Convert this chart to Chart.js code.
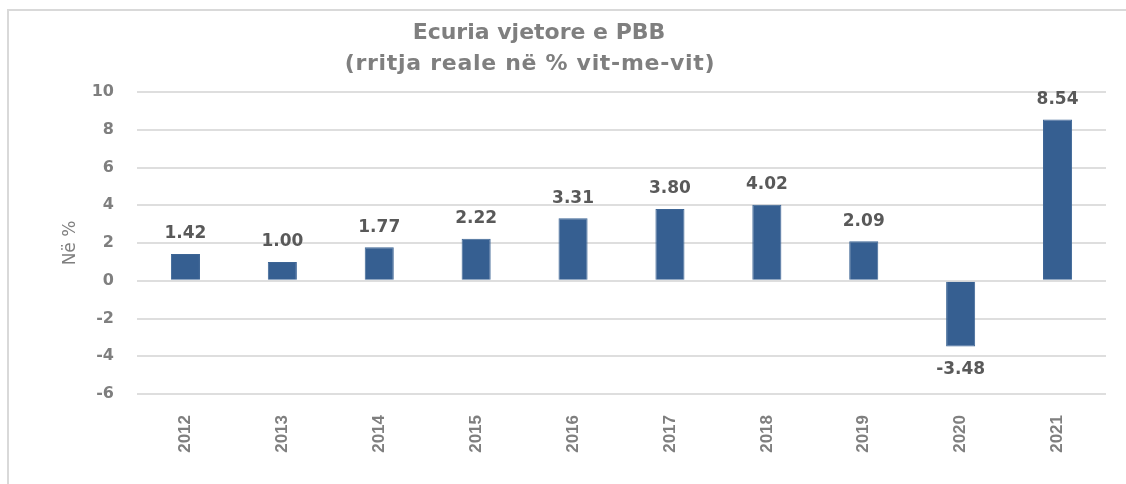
<!DOCTYPE html>
<html>
<head>
<meta charset="utf-8">
<script src="https://cdn.jsdelivr.net/npm/chart.js@4.4.1/dist/chart.umd.min.js"></script>
<style>
  html, body { margin: 0; padding: 0; background: #fff; overflow: hidden; }
  #wrap { width: 1126px; height: 484px; position: relative; }
  canvas { display: block; }
</style>
</head>
<body>
<div id="wrap"><canvas id="c" width="1126" height="484"></canvas></div>
<script>
const years = ['2012', '2013', '2014', '2015', '2016', '2017', '2018', '2019', '2020', '2021'];
const growth = [1.42, 1.00, 1.77, 2.22, 3.31, 3.80, 4.02, 2.09, -3.48, 8.54];
const titleLines = ['Ecuria vjetore e PBB', '(rritja reale në % vit-me-vit)'];
const yAxisTitle = 'Në %';

const frameAndTitle = {
  id: 'frameAndTitle',
  beforeDraw(chart) {
    const ctx = chart.ctx;
    ctx.save();
    ctx.fillStyle = '#ffffff';
    ctx.fillRect(0, 0, chart.width, chart.height);
    ctx.fillStyle = '#d9d9d9';
    ctx.fillRect(7, 9, 2, chart.height - 9);
    ctx.fillRect(7, 9, chart.width - 7, 2);
    ctx.restore();
  },
  afterDraw(chart) {
    const ctx = chart.ctx;
    ctx.save();
    ctx.fillStyle = '#7f7f7f';
    ctx.font = 'bold 22px "DejaVu Sans"';
    ctx.textAlign = 'center';
    ctx.textBaseline = 'middle';
    ctx.fillText(titleLines[0], 539, 33);
    ctx.letterSpacing = '0.7px';
    ctx.fillText(titleLines[1], 530, 64);
    ctx.restore();
  }
};

const valueLabels = {
  id: 'valueLabels',
  afterDatasetsDraw(chart) {
    const ctx = chart.ctx;
    const meta = chart.getDatasetMeta(0);
    ctx.save();
    ctx.fillStyle = '#595959';
    ctx.font = 'bold 17px "DejaVu Sans"';
    ctx.textAlign = 'center';
    ctx.textBaseline = 'middle';
    meta.data.forEach((bar, i) => {
      const v = growth[i];
      const y = v >= 0 ? bar.y - 20 : bar.y + 23;
      ctx.fillText(v.toFixed(2), bar.x, y);
    });
    ctx.restore();
  }
};

new Chart(document.getElementById('c'), {
  type: 'bar',
  data: {
    labels: years,
    datasets: [{
      data: growth,
      backgroundColor: '#365f91',
      borderColor: '#3d6595',
      borderWidth: 1,
      barPercentage: 0.3,
      categoryPercentage: 1.0
    }]
  },
  options: {
    responsive: false,
    animation: false,
    devicePixelRatio: 1,
    layout: { padding: { top: 92, right: 20, bottom: 0, left: 0 } },
    plugins: {
      legend: { display: false },
      tooltip: { enabled: false },
      title: { display: false }
    },
    scales: {
      x: {
        grid: { display: false },
        border: { display: false },
        ticks: {
          color: '#7f7f7f',
          font: { family: '"Liberation Sans"', size: 17, weight: 'bold' },
          minRotation: 90,
          maxRotation: 90,
          padding: 13
        },
        afterFit(scale) { scale.height = 90; }
      },
      y: {
        min: -6,
        max: 10,
        grid: { color: '#dedede', lineWidth: 2, drawTicks: false },
        border: { display: false },
        ticks: {
          stepSize: 2,
          color: '#7f7f7f',
          font: { family: '"DejaVu Sans"', size: 16, weight: 'bold' },
          padding: 23
        },
        title: {
          display: true,
          text: yAxisTitle,
          color: '#7f7f7f',
          font: { family: '"DejaVu Sans"', size: 17, weight: 'normal' },
          padding: { top: 60, bottom: 0 }
        },
        afterFit(scale) { scale.width = 137; }
      }
    }
  },
  plugins: [frameAndTitle, valueLabels]
});
</script>
</body>
</html>
